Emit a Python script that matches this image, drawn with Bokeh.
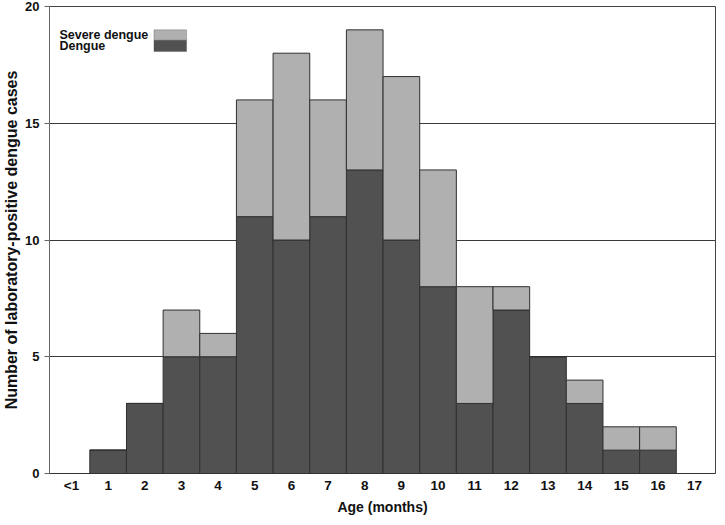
from bokeh.plotting import figure
from bokeh.models import Range1d, FixedTicker, BoxAnnotation, Label, ColumnDataSource
from bokeh.embed import file_html
from bokeh.resources import INLINE

categories = ["<1", "1", "2", "3", "4", "5", "6", "7", "8", "9", "10",
              "11", "12", "13", "14", "15", "16", "17"]
dengue = [0, 1, 3, 5, 5, 11, 10, 11, 13, 10, 8, 3, 7, 5, 3, 1, 1, 0]
severe = [0, 0, 0, 2, 1, 5, 8, 5, 6, 7, 5, 5, 1, 0, 1, 1, 1, 0]
y_ticks = [0, 5, 10, 15, 20]

DARK = "#515151"
LIGHT = "#b0b0b0"
FONT = "Liberation Sans"

pos = list(range(len(categories)))
src = ColumnDataSource(dict(x=pos, dengue=dengue, severe=severe))

p = figure(width=717, height=517, output_backend="svg", toolbar_location=None,
           x_range=Range1d(-0.6, len(categories) - 1 + 0.57),
           y_range=Range1d(0, 20),
           min_border_left=45, min_border_right=2, min_border_top=6,
           min_border_bottom=40)

p.vbar_stack(["dengue", "severe"], x="x", width=1.0, source=src,
             fill_color=[DARK, LIGHT], line_color="#303030", line_width=1)

# axes
p.xaxis.ticker = FixedTicker(ticks=pos)
p.xaxis.major_label_overrides = {i: c for i, c in zip(pos, categories)}
p.xaxis.major_tick_out = 0
p.xaxis.major_tick_in = 0
p.xaxis.minor_tick_line_color = None
p.xaxis.axis_line_color = "#333333"
p.xaxis.axis_label = "Age (months)"
p.xaxis.major_label_standoff = 4
p.xaxis.axis_label_standoff = 3
p.xaxis.major_label_text_font_size = "13.5px"
p.xaxis.axis_label_text_font_size = "14px"

p.yaxis.ticker = FixedTicker(ticks=y_ticks)
p.yaxis.major_tick_out = 5
p.yaxis.major_tick_in = 0
p.yaxis.minor_tick_line_color = None
p.yaxis.axis_line_color = "#666666"
p.yaxis.major_tick_line_color = "#666666"
p.yaxis.axis_label = "Number of laboratory-positive dengue cases"
p.yaxis.major_label_standoff = 5
p.yaxis.axis_label_standoff = 2
p.yaxis.major_label_text_font_size = "13px"
p.yaxis.axis_label_text_font_size = "16px"

for ax in (p.xaxis[0], p.yaxis[0]):
    ax.major_label_text_font = FONT
    ax.major_label_text_font_style = "bold"
    ax.major_label_text_color = "#111111"
    ax.axis_label_text_font = FONT
    ax.axis_label_text_font_style = "bold"
    ax.axis_label_text_color = "#111111"

p.xgrid.grid_line_color = None
p.ygrid.grid_line_color = "#3a3a3a"
p.ygrid.grid_line_width = 1
p.outline_line_color = "#444444"
p.outline_line_width = 1
p.background_fill_color = "white"
p.border_fill_color = "white"

# legend (manual: labels left, combined swatch right)
p.add_layout(BoxAnnotation(left=2.25, right=3.14, bottom=18.55, top=19.0,
                           fill_color=LIGHT, fill_alpha=1, line_color="#444444",
                           line_width=1))
p.add_layout(BoxAnnotation(left=2.25, right=3.14, bottom=18.07, top=18.55,
                           fill_color=DARK, fill_alpha=1, line_color="#444444",
                           line_width=1))
for txt, yy in (("Severe dengue", 18.77), ("Dengue", 18.3)):
    p.add_layout(Label(x=-0.33, y=yy, text=txt, text_font=FONT,
                       text_font_style="bold", text_font_size="12.5px",
                       text_color="#111111", text_baseline="middle",
                       text_align="left"))

open("out.html", "w").write(file_html(p, INLINE))
